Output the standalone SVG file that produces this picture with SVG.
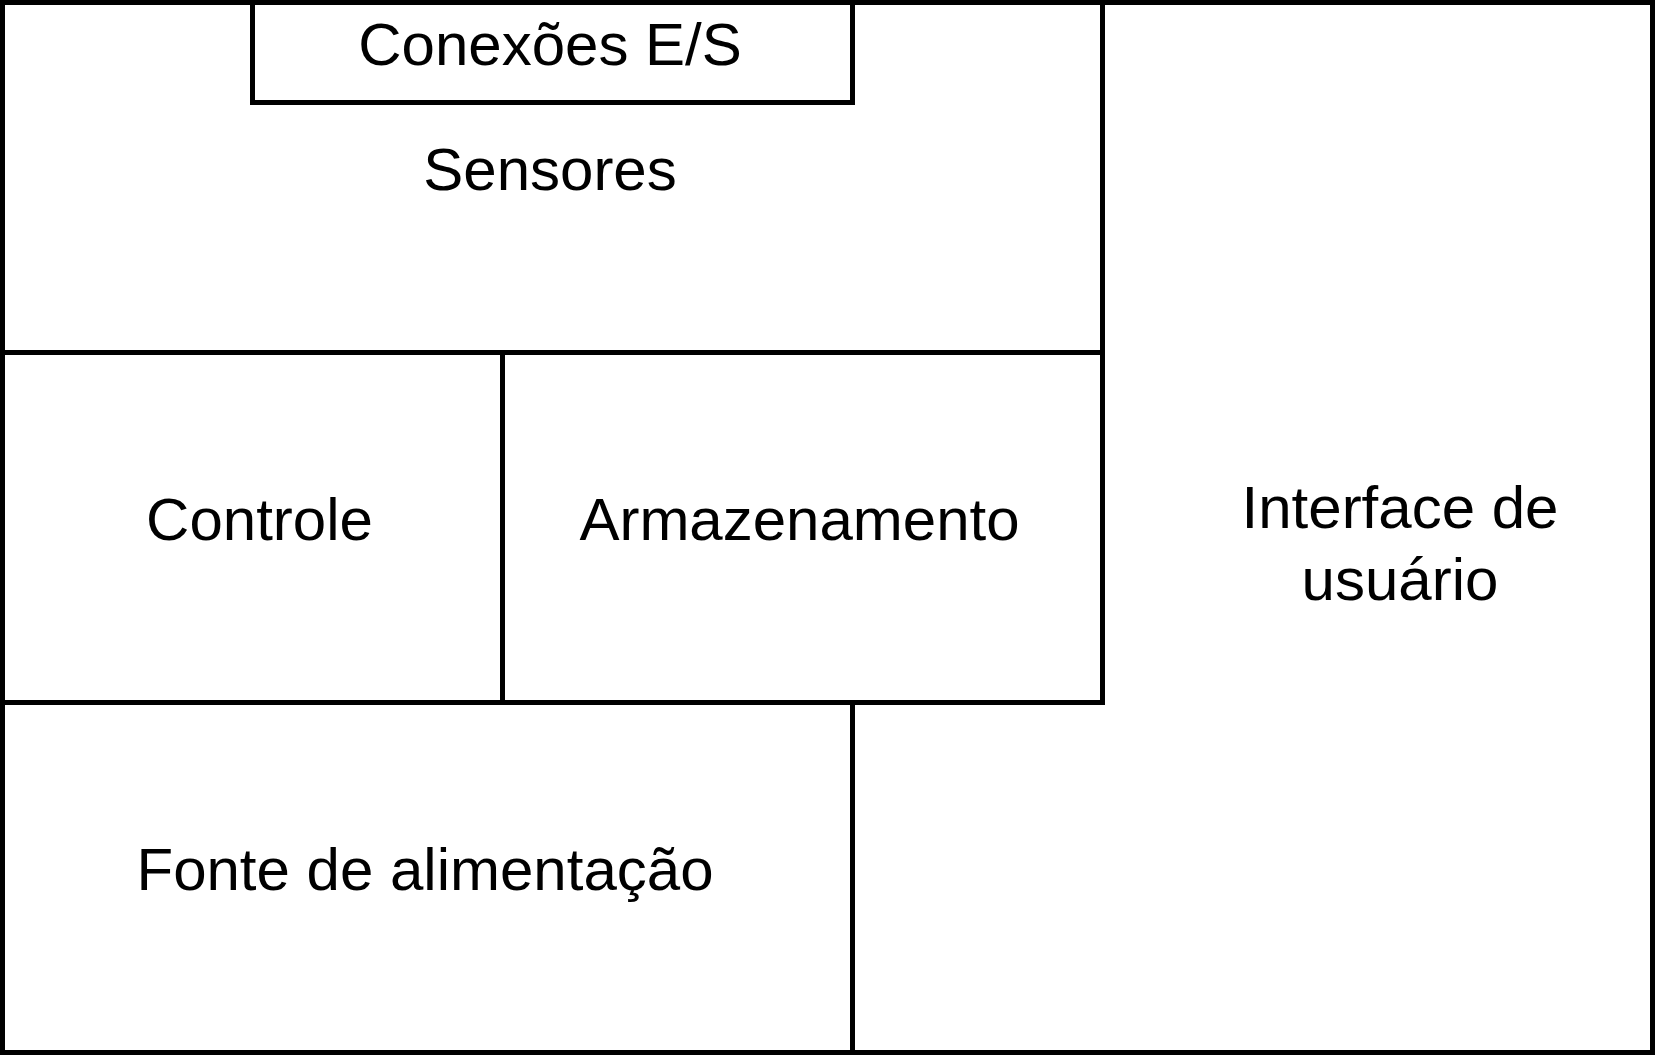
<svg xmlns="http://www.w3.org/2000/svg" width="1655" height="1055" viewBox="0 0 1655 1055">
<style>
.box{fill:#ffffff;stroke:#000000;stroke-width:5}
.lbl{font-family:"Liberation Sans",Arial,Helvetica,sans-serif;font-size:60px;fill:#000000;text-anchor:middle}
</style>
<rect x="0" y="0" width="1655" height="1055" fill="#ffffff"/>
<g id="interface">
<polygon class="box" points="1102.5,2.5 1652.5,2.5 1652.5,1052.5 852.5,1052.5 852.5,702.5 1102.5,702.5"/>
<text class="lbl" x="1400" y="528">Interface de</text>
<text class="lbl" x="1400" y="600">usuário</text>
</g>
<g id="sensores">
<rect class="box" x="2.5" y="2.5" width="1100" height="350"/>
<text class="lbl" x="550" y="190">Sensores</text>
</g>
<g id="conexoes">
<rect class="box" x="252.5" y="2.5" width="600" height="100"/>
<text class="lbl" x="550" y="64.5">Conexões E/S</text>
</g>
<g id="controle">
<rect class="box" x="2.5" y="352.5" width="500" height="350"/>
<text class="lbl" x="259.5" y="539.5">Controle</text>
</g>
<g id="armazenamento">
<rect class="box" x="502.5" y="352.5" width="600" height="350"/>
<text class="lbl" x="799.5" y="539.5">Armazenamento</text>
</g>
<g id="fonte">
<rect class="box" x="2.5" y="702.5" width="850" height="350"/>
<text class="lbl" x="425" y="890">Fonte de alimentação</text>
</g>
<g id="connectors"></g>
</svg>
